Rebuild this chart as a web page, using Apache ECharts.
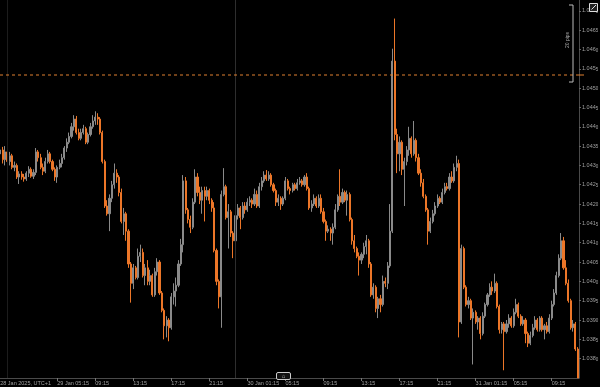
<!DOCTYPE html>
<html><head><meta charset="utf-8">
<script src="https://cdn.jsdelivr.net/npm/echarts@6/dist/echarts.min.js"></script>
<style>html,body{margin:0;padding:0;background:#000;}#c{width:600px;height:387px;}</style>
</head><body><div id="c"></div>
<script>
// [open, close, low, high] — EUR/USD 15-minute candles, 28 Jan 23:15 .. 31 Jan 12:00 (UTC+1)
const candles = [
[1.0433,1.0434,1.04315,1.04355],[1.0434,1.04315,1.04305,1.04348],[1.04315,1.04335,1.0430,1.0435],[1.04335,1.0431,1.04295,1.04345],
[1.0431,1.04325,1.0430,1.04335],[1.04325,1.04295,1.0429,1.0433],[1.04295,1.0430,1.04285,1.0431],[1.0430,1.0427,1.04265,1.04305],
[1.0427,1.04278,1.04252,1.04285],[1.04278,1.0427,1.04263,1.04285],[1.0427,1.04265,1.04258,1.04278],[1.04265,1.0428,1.0426,1.04285],
[1.0428,1.0429,1.0427,1.04298],[1.0429,1.04272,1.04268,1.04295],[1.04272,1.04282,1.04265,1.0429],[1.04282,1.04335,1.04275,1.04345],
[1.04335,1.0432,1.0431,1.0434],[1.0432,1.04295,1.0429,1.0433],[1.04295,1.04285,1.04275,1.04305],[1.04285,1.0431,1.0428,1.0432],
[1.0431,1.0433,1.04305,1.0434],[1.0433,1.0431,1.04305,1.04335],[1.0431,1.0429,1.04285,1.04315],[1.0429,1.0427,1.0426,1.04295],
[1.0427,1.04295,1.04255,1.0430],[1.04295,1.04305,1.0429,1.04315],[1.04305,1.0432,1.04295,1.0433],[1.0432,1.04345,1.04315,1.0435],
[1.04345,1.0436,1.04335,1.0437],[1.0436,1.04375,1.04355,1.04385],[1.04375,1.0440,1.0437,1.0441],[1.0440,1.0442,1.0439,1.0443],
[1.0442,1.04385,1.0438,1.04428],[1.04385,1.0437,1.04365,1.04395],[1.0437,1.04385,1.04365,1.04395],[1.04385,1.04395,1.0438,1.04405],
[1.04395,1.0436,1.04355,1.0440],[1.0436,1.0438,1.04355,1.04385],[1.0438,1.0440,1.04375,1.0441],[1.0440,1.04415,1.04395,1.0443],
[1.04415,1.04425,1.04405,1.0444],[1.04425,1.0442,1.04405,1.04435],[1.0442,1.04385,1.0438,1.04425],[1.04385,1.0431,1.04305,1.0439],
[1.0431,1.04195,1.0419,1.04315],[1.04195,1.04175,1.0417,1.0421],[1.04175,1.04215,1.0413,1.04225],[1.04215,1.0425,1.04205,1.0426],
[1.0425,1.0428,1.0424,1.04305],[1.0428,1.0427,1.04255,1.0429],[1.0427,1.0423,1.0422,1.04275],[1.0423,1.04155,1.0415,1.0424],
[1.04155,1.04175,1.0412,1.0419],[1.04175,1.0413,1.04105,1.0418],[1.0413,1.04045,1.04035,1.04135],[1.04045,1.03995,1.03945,1.0405],
[1.03995,1.04035,1.0398,1.04045],[1.04035,1.0401,1.04005,1.0404],[1.0401,1.04065,1.04005,1.04085],[1.04065,1.04075,1.0405,1.04095],
[1.04075,1.04015,1.0401,1.04085],[1.04015,1.04035,1.0399,1.04045],[1.04035,1.0400,1.0399,1.04055],[1.0400,1.04015,1.0399,1.0403],
[1.04015,1.03965,1.0396,1.0402],[1.03965,1.04025,1.0396,1.04035],[1.04025,1.0405,1.04015,1.0406],[1.0405,1.0397,1.03965,1.04055],
[1.0397,1.03925,1.0392,1.03975],[1.03925,1.03885,1.0385,1.0393],[1.03885,1.0390,1.03855,1.0391],[1.0390,1.0388,1.03845,1.03905],
[1.0388,1.0396,1.03875,1.0397],[1.0396,1.03975,1.0394,1.03995],[1.03975,1.0399,1.03935,1.0401],[1.0399,1.04045,1.03985,1.04055],
[1.04045,1.04095,1.0404,1.0411],[1.04095,1.0426,1.04075,1.04275],[1.0426,1.04185,1.04175,1.0427],[1.04185,1.0416,1.0415,1.0419],
[1.0416,1.0414,1.04125,1.0417],[1.0414,1.04205,1.04135,1.04215],[1.04205,1.0427,1.0420,1.0429],[1.0427,1.0423,1.0422,1.0428],
[1.0423,1.0421,1.0420,1.04245],[1.0421,1.04235,1.04175,1.04245],[1.04235,1.0422,1.04155,1.04245],[1.0422,1.04235,1.0421,1.04245],
[1.04235,1.0421,1.0420,1.0424],[1.0421,1.0419,1.0418,1.04215],[1.0419,1.0408,1.04075,1.04205],[1.0408,1.0400,1.0399,1.04085],
[1.0400,1.0396,1.0393,1.04005],[1.0396,1.04225,1.0388,1.04235],[1.04225,1.04245,1.0422,1.04293],[1.04245,1.04165,1.0416,1.0425],
[1.04165,1.0418,1.04085,1.0420],[1.0418,1.04125,1.04115,1.04185],[1.04125,1.04105,1.0406,1.0413],[1.04105,1.0417,1.04095,1.0418],
[1.0417,1.0419,1.0416,1.0420],[1.0419,1.04165,1.04135,1.04195],[1.04165,1.04195,1.0416,1.04205],[1.04195,1.04185,1.04175,1.04205],
[1.04185,1.04205,1.0418,1.04215],[1.04205,1.0421,1.04195,1.0422],[1.0421,1.0420,1.0419,1.04215],[1.0420,1.04225,1.04195,1.0424],
[1.04225,1.04195,1.0419,1.04235],[1.04195,1.04245,1.0419,1.04255],[1.04245,1.0426,1.04235,1.0427],[1.0426,1.04275,1.04255,1.04285],
[1.04275,1.04265,1.0426,1.04288],[1.04265,1.04275,1.0426,1.04285],[1.04275,1.0425,1.04245,1.0428],[1.0425,1.04235,1.0423,1.04255],
[1.04235,1.04205,1.04195,1.0424],[1.04205,1.04215,1.04195,1.04225],[1.04215,1.0420,1.04185,1.0422],[1.0420,1.04215,1.04195,1.0422],
[1.04215,1.0426,1.0421,1.0427],[1.0426,1.0424,1.04235,1.04265],[1.0424,1.04235,1.04225,1.04245],[1.04235,1.0425,1.0423,1.04255],
[1.0425,1.0424,1.04235,1.04255],[1.0424,1.04255,1.04235,1.04265],[1.04255,1.0426,1.0425,1.0427],[1.0426,1.0425,1.04245,1.04265],
[1.0425,1.0427,1.04245,1.04275],[1.0427,1.0424,1.04235,1.0428],[1.0424,1.0419,1.04185,1.04245],[1.0419,1.0420,1.0418,1.0421],
[1.0420,1.04215,1.04195,1.04225],[1.04215,1.04195,1.0419,1.0422],[1.04195,1.04215,1.0419,1.04225],[1.04215,1.0418,1.04175,1.04225],
[1.0418,1.04155,1.0415,1.0419],[1.04155,1.0413,1.04105,1.0416],[1.0413,1.04135,1.04125,1.04145],[1.04135,1.04125,1.04105,1.0414],
[1.04125,1.0414,1.04095,1.0415],[1.0414,1.04185,1.04135,1.0420],[1.04185,1.0422,1.0418,1.04225],[1.0422,1.04205,1.04195,1.0429],
[1.04205,1.0423,1.0420,1.0424],[1.0423,1.0421,1.04205,1.04235],[1.0421,1.04225,1.0417,1.04235],[1.04225,1.0416,1.04155,1.0423],
[1.0416,1.04105,1.04095,1.04165],[1.04105,1.04085,1.04075,1.0412],[1.04085,1.04065,1.0406,1.0409],[1.04065,1.04055,1.04015,1.04075],
[1.04055,1.0407,1.04045,1.04075],[1.0407,1.0409,1.0406,1.0410],[1.0409,1.04105,1.0407,1.0412],[1.04105,1.04045,1.04035,1.0411],
[1.04045,1.03965,1.0396,1.0405],[1.03965,1.03985,1.03955,1.03995],[1.03985,1.0393,1.0392,1.0399],[1.0393,1.03955,1.03905,1.0396],
[1.03955,1.0394,1.0392,1.03965],[1.0394,1.0400,1.03935,1.04015],[1.0400,1.03995,1.03985,1.0401],[1.03995,1.0404,1.0398,1.0405],
[1.0404,1.0413,1.04035,1.0420],[1.0413,1.0457,1.04125,1.04602],[1.0457,1.0438,1.04365,1.0468],[1.0438,1.0433,1.0428,1.04395],
[1.0433,1.0436,1.04285,1.04375],[1.0436,1.0429,1.04275,1.04365],[1.0429,1.0431,1.04195,1.0432],[1.0431,1.0434,1.0430,1.0435],
[1.0434,1.0437,1.04325,1.0440],[1.0437,1.0433,1.0432,1.04375],[1.0433,1.04365,1.04325,1.04415],[1.04365,1.0432,1.0431,1.0437],
[1.0432,1.0428,1.04275,1.0433],[1.0428,1.04255,1.04245,1.0429],[1.04255,1.0422,1.04215,1.04265],[1.0422,1.04185,1.0418,1.04225],
[1.04185,1.0413,1.04095,1.0419],[1.0413,1.04155,1.04125,1.04165],[1.04155,1.04175,1.0415,1.04185],[1.04175,1.04195,1.0417,1.04205],
[1.04195,1.04215,1.0419,1.04225],[1.04215,1.04205,1.0420,1.0422],[1.04205,1.0423,1.0420,1.0424],[1.0423,1.04245,1.04225,1.04255],
[1.04245,1.0424,1.04235,1.04255],[1.0424,1.0427,1.04235,1.0428],[1.0427,1.0426,1.04255,1.04285],[1.0426,1.04295,1.04255,1.04305],
[1.04295,1.04305,1.04285,1.04325],[1.04305,1.03895,1.03855,1.04315],[1.03895,1.04085,1.0389,1.04095],[1.04085,1.03985,1.0398,1.0409],
[1.03985,1.0394,1.03935,1.0399],[1.0394,1.0395,1.0393,1.0396],[1.0395,1.03905,1.0390,1.03955],[1.03905,1.0392,1.03785,1.0393],
[1.0392,1.03895,1.0389,1.03925],[1.03895,1.03905,1.03875,1.0391],[1.03905,1.03865,1.0385,1.0391],[1.03865,1.0391,1.0386,1.0392],
[1.0391,1.0394,1.03905,1.03945],[1.0394,1.03965,1.03935,1.0397],[1.03965,1.03985,1.0396,1.03995],[1.03985,1.03975,1.03965,1.0400],
[1.03975,1.03995,1.0397,1.0402],[1.03995,1.03935,1.0393,1.0400],[1.03935,1.03875,1.03865,1.0394],[1.03875,1.0389,1.03865,1.03895],
[1.0389,1.0387,1.0377,1.03895],[1.0387,1.0389,1.03865,1.0390],[1.0389,1.03905,1.0388,1.03915],[1.03905,1.03885,1.0388,1.0391],
[1.03885,1.0392,1.0388,1.0393],[1.0392,1.0394,1.03915,1.03955],[1.0394,1.0391,1.03905,1.03945],[1.0391,1.0389,1.03885,1.03915],
[1.0389,1.0390,1.03885,1.0391],[1.0390,1.03865,1.0384,1.03905],[1.03865,1.0384,1.0383,1.0387],[1.0384,1.0386,1.03835,1.0387],
[1.0386,1.0388,1.03855,1.0389],[1.0388,1.0390,1.03875,1.0391],[1.0390,1.03875,1.0387,1.03905],[1.03875,1.03905,1.0387,1.0391],
[1.03905,1.03875,1.0387,1.0391],[1.03875,1.03885,1.0385,1.0389],[1.03885,1.0387,1.03865,1.03895],[1.0387,1.03905,1.03865,1.03915],
[1.03905,1.0394,1.0390,1.0395],[1.0394,1.0397,1.03935,1.0398],[1.0397,1.04015,1.03965,1.04025],[1.04015,1.0406,1.0401,1.0407],
[1.0406,1.04105,1.04055,1.04125],[1.04105,1.04035,1.0403,1.04115],[1.04035,1.03995,1.0399,1.04055],[1.03995,1.0395,1.03945,1.04005],
[1.0395,1.0388,1.03875,1.03955],[1.0388,1.0389,1.0387,1.0390],[1.0389,1.03825,1.0382,1.03895],[1.03825,1.0375,1.0375,1.0383]
];

// x-axis tick labels (category index -> text)
const xTickIndex = [24, 40, 56, 72, 88, 104, 120, 136, 152, 168, 184, 200, 216, 232];
const xTickText  = ['29 Jan 05:15','09:15','13:15','17:15','21:15','30 Jan 01:15','05:15','09:15','13:15','17:15','21:15','31 Jan 01:15','05:15','09:15'];
const xStartText = '28 Jan 2025, UTC+1';
const daySeparators = [3, 99];         // 29 Jan 00:00, 30 Jan 00:00
const markerPrice = 1.04534;            // dashed level
const yMin = 1.0375, yMax = 1.04728, yStep = 0.0005;

// categories: 15-minute bars
const times = [];
function pad(n){return (n<10?'0':'')+n;}
for (let k = 0; k < candles.length; k++) {
  const m = 23*60 + 15 + k*15;
  const day = 28 + Math.floor(m/1440), mm = m % 1440;
  times.push(day + ' Jan ' + pad(Math.floor(mm/60)) + ':' + pad(mm%60));
}
const labelMap = {0: xStartText};
xTickIndex.forEach((ix, j) => labelMap[ix] = xTickText[j]);

const ORANGE = '#ec7628', GREY = '#8a8a8a', AXIS = '#4a4a4a', TXT = '#a0a0a0', LEVEL = '#e08030';
const FONT = 'Liberation Sans, DejaVu Sans, sans-serif';

const chart = echarts.init(document.getElementById('c'), null, {renderer: 'canvas'});
chart.setOption({
  backgroundColor: '#000',
  animation: false,
  grid: {left: -1, right: 21, top: 0, bottom: 9, containLabel: false, outerBoundsMode: 'none'},
  xAxis: {
    type: 'category', data: times, boundaryGap: true,
    axisLine: {show: true, lineStyle: {color: AXIS, width: 1}},
    axisTick: {show: true, alignWithLabel: true, length: 3, lineStyle: {color: '#777'},
      interval: (i) => xTickIndex.indexOf(i) >= 0},
    axisLabel: {show: true, interval: (i) => labelMap[i] !== undefined,
      formatter: (v, i) => labelMap[i] || '', align: 'left', margin: 2,
      color: TXT, fontSize: 5.5, fontFamily: FONT},
    splitLine: {show: false}
  },
  yAxis: {
    type: 'value', position: 'right', min: yMin, max: yMax, interval: yStep,
    axisLine: {show: true, lineStyle: {color: AXIS, width: 1}},
    axisTick: {show: true, length: 2, lineStyle: {color: '#666'}},
    splitLine: {show: false},
    axisLabel: {show: true, margin: 3, showMinLabel: false, showMaxLabel: false,
      formatter: (v) => { const s = v.toFixed(4); return '{a|' + s.slice(0,5) + '}{b|' + s.slice(5) + '}'; },
      rich: {a: {color: TXT, fontSize: 5.5, fontFamily: FONT}, b: {color: TXT, fontSize: 4.5, fontFamily: FONT, padding: [2,0,0,0]}}}
  },
  series: [{
    type: 'candlestick', data: candles, barWidth: 1.6,
    itemStyle: {color: GREY, color0: ORANGE, borderColor: GREY, borderColor0: ORANGE, borderWidth: 1},
    markLine: {
      silent: true, symbol: 'none', label: {show: false}, animation: false,
      data: [
        {xAxis: times[daySeparators[0]], lineStyle: {color: '#1c1c1c', type: 'solid', width: 1}},
        {xAxis: times[daySeparators[1]], lineStyle: {color: '#2e2e2e', type: 'solid', width: 1}}
      ]
    }
  }]
});

// dashed level line and its right-side tick, placed through the library's own y scale
const ly = Math.round(chart.convertToPixel({yAxisIndex: 0}, markerPrice));
const dashes = [];
for (let x = 0; x < 580; x += 6) dashes.push({type: 'line', z: 50, silent: true,
  shape: {x1: x, y1: ly, x2: Math.min(x + 3, 580), y2: ly}, style: {stroke: LEVEL, lineWidth: 1}});
chart.setOption({
  graphic: dashes.concat([
    {type: 'line', z: 50, shape: {x1: 579, y1: ly, x2: 584, y2: ly}, style: {stroke: LEVEL, lineWidth: 1}, silent: true},
    {type: 'polyline', z: 51, shape: {points: [[569,5],[573,5],[573,82],[569,82]]}, style: {stroke: '#bbb', fill: null, lineWidth: 1}, silent: true},
    {type: 'text', z: 51, x: 568, y: 40, rotation: Math.PI/2, style: {text: '20 pips', fill: '#aaa', fontSize: 5, fontFamily: FONT, align: 'center', verticalAlign: 'middle'}, silent: true},
    {type: 'rect', z: 51, shape: {x: 589.5, y: 3.5, width: 8, height: 8}, style: {stroke: '#ddd', fill: '#222', lineWidth: 1}, silent: true},
    {type: 'line', z: 52, shape: {x1: 591.5, y1: 9.5, x2: 596, y2: 5}, style: {stroke: '#ddd', lineWidth: 1}, silent: true},
    {type: 'rect', z: 51, shape: {x: 276.5, y: 372.5, width: 14, height: 7, r: 1.5}, style: {stroke: '#ccc', fill: '#111', lineWidth: 1}, silent: true},
    {type: 'text', z: 52, x: 283.5, y: 376, style: {text: '⌂', fill: '#ccc', fontSize: 6, fontFamily: FONT, align: 'center', verticalAlign: 'middle'}, silent: true}
  ])
});
</script></body></html>
